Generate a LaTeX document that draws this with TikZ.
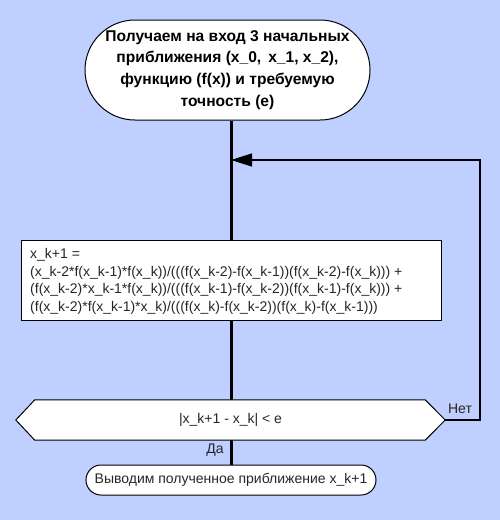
\documentclass[tikz,border=0pt]{standalone}
\usepackage{fontspec}
\setmainfont{Liberation Sans}
\usetikzlibrary{arrows.meta}
\definecolor{bgblue}{RGB}{191,207,255}
\tikzset{
  term/.style={draw=black, fill=white, line width=1pt, align=center, inner sep=0pt},
  procbox/.style={draw=black, fill=white, line width=1pt, inner sep=0pt},
  flow/.style={line width=3pt},
  loopline/.style={line width=1.2pt},
  lbl/.style={font=\fontsize{14}{16}\selectfont, text=black!85, inner sep=0pt}
}
\begin{document}
\begin{tikzpicture}[x=1pt,y=-1pt]
\fill[bgblue] (0,0) rectangle (500,520);
\useasboundingbox (0,0) rectangle (500,520);
\node[term, minimum width=285pt, minimum height=100pt, rounded corners=50pt,
  font=\bfseries\fontsize{15.6}{21.7}\selectfont] (start) at (227.5,70)
  {Получаем на вход 3 начальных\\приближения (x\_0,\, x\_1, x\_2),\\функцию (f(x)) и требуемую\\точность (e)};
\node[procbox, minimum width=420pt, minimum height=80pt] (proc) at (231,280) {};
\node[anchor=north west, align=left, inner sep=0pt, font=\fontsize{14}{17.8}\selectfont, text=black!85] (proctext) at (30,248)
  {x\_k+1 =\\(x\_k-2*f(x\_k-1)*f(x\_k))/(((f(x\_k-2)-f(x\_k-1))(f(x\_k-2)-f(x\_k))) +\\(f(x\_k-2)*x\_k-1*f(x\_k))/(((f(x\_k-1)-f(x\_k-2))(f(x\_k-1)-f(x\_k))) +\\(f(x\_k-2)*f(x\_k-1)*x\_k)/(((f(x\_k)-f(x\_k-2))(f(x\_k)-f(x\_k-1)))};
\node[minimum width=429pt, minimum height=40pt, inner sep=0pt] (cond) at (230.5,420) {};
\draw[line width=1pt, fill=white] (cond.west) -- ([xshift=19pt]cond.north west) -- ([xshift=-20pt]cond.north east) -- (cond.east) -- ([xshift=-20pt]cond.south east) -- ([xshift=19pt]cond.south west) -- cycle;
\node[lbl] (condtext) at (cond.center) {|x\_k+1 - x\_k| < e};
\node[term, minimum width=290pt, minimum height=30pt, rounded corners=15pt, font=\fontsize{14}{16}\selectfont, text=black!85] (out) at (231,480) {Выводим полученное приближение x\_k+1};
\coordinate (m1) at (231,160);
\coordinate (r1) at (480,420);
\coordinate (r2) at (480,160);
\draw[flow] (start.south -| m1) -- (proc.north -| m1);
\draw[flow] (proc.south -| m1) -- (cond.north -| m1);
\draw[flow] (cond.south -| m1) -- (out.north -| m1);
\draw[loopline, -{Triangle[length=21pt,width=13pt]}] (cond.east) -- (r1) -- (r2) -- (m1);
\node[lbl] (no) at (460,409) {Нет};
\node[lbl] (yes) at (215,450) {Да};
\end{tikzpicture}
\end{document}
